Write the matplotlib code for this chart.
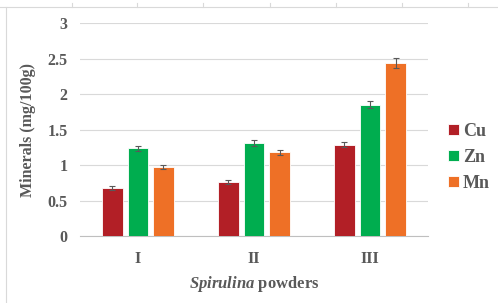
import numpy as np
import matplotlib.pyplot as plt
from matplotlib.lines import Line2D

plt.rcParams['font.family'] = 'Liberation Serif'
plt.rcParams['mathtext.fontset'] = 'custom'
plt.rcParams['mathtext.bfit'] = 'Liberation Serif:italic:bold'

# data
groups = ['I', 'II', 'III']
elements = ['Cu', 'Zn', 'Mn']
cu = [0.68, 0.765, 1.29]
zn = [1.235, 1.31, 1.855]
mn = [0.976, 1.18, 2.445]
cu_err = [0.03, 0.03, 0.04]
zn_err = [0.03, 0.04, 0.05]
mn_err = [0.03, 0.04, 0.07]
colors = ['#B21F26', '#00AD4F', '#EE7026']

grey = '#595959'

fig = plt.figure(figsize=(4.98, 3.03), dpi=100)
ax = fig.add_axes([0.1606, 0.2211, 0.6988, 0.7019])

x = np.arange(len(groups))
offsets = [-0.22, 0, 0.22]
for vals, errs, off, c, name in zip([cu, zn, mn], [cu_err, zn_err, mn_err], offsets, colors, elements):
    ax.bar(x + off, vals, width=0.175, color=c, edgecolor='white', linewidth=0.6,
           label=name, zorder=2)
    ax.errorbar(x + off, vals, yerr=errs, fmt='none', ecolor=grey, elinewidth=0.8,
                capsize=2.5, capthick=0.8, zorder=3)

ax.set_xlim(-0.5, 2.5)
ax.set_ylim(0, 3)
ax.set_yticks(np.arange(0, 3.01, 0.5))
ax.set_yticklabels(['0', '0.5', '1', '1.5', '2', '2.5', '3'])
ax.set_xticks(x)
ax.set_xticklabels(groups)
ax.tick_params(length=0, labelsize=11.5, colors=grey, pad=9)
ax.tick_params(axis='x', pad=11)
for lab in ax.get_xticklabels() + ax.get_yticklabels():
    lab.set_fontweight('bold')
ax.grid(axis='y', color='#D9D9D9', linewidth=0.8, zorder=0)
for s in ['top', 'right', 'left']:
    ax.spines[s].set_visible(False)
ax.spines['bottom'].set_color('#BFBFBF')
ax.spines['bottom'].set_zorder(1)

ax.set_ylabel('Minerals (mg/100g)', fontsize=11.5, fontweight='bold', color=grey, labelpad=8)
ax.set_xlabel(r'$\mathbfit{Spirulina}$ powders', fontsize=12, fontweight='bold', color=grey, labelpad=5)

leg = ax.legend(loc='center left', bbox_to_anchor=(1.01, 0.37), frameon=False,
                handlelength=0.6, handleheight=0.6, handletextpad=0.25,
                labelspacing=0.5, prop={'weight': 'bold', 'size': 13})
for t in leg.get_texts():
    t.set_color(grey)

# outer frame of the original picture
fig.add_artist(Line2D([0, 1], [0.977, 0.977], color='#D9D9D9', lw=0.8))
fig.add_artist(Line2D([0.012, 0.012], [0, 0.977], color='#D9D9D9', lw=0.8))
for px in [72, 137, 203, 270, 336, 402, 468]:
    fig.add_artist(Line2D([px / 498, px / 498], [0.977, 0.99], color='#D9D9D9', lw=0.8))

fig.savefig('out.png', dpi=100)
